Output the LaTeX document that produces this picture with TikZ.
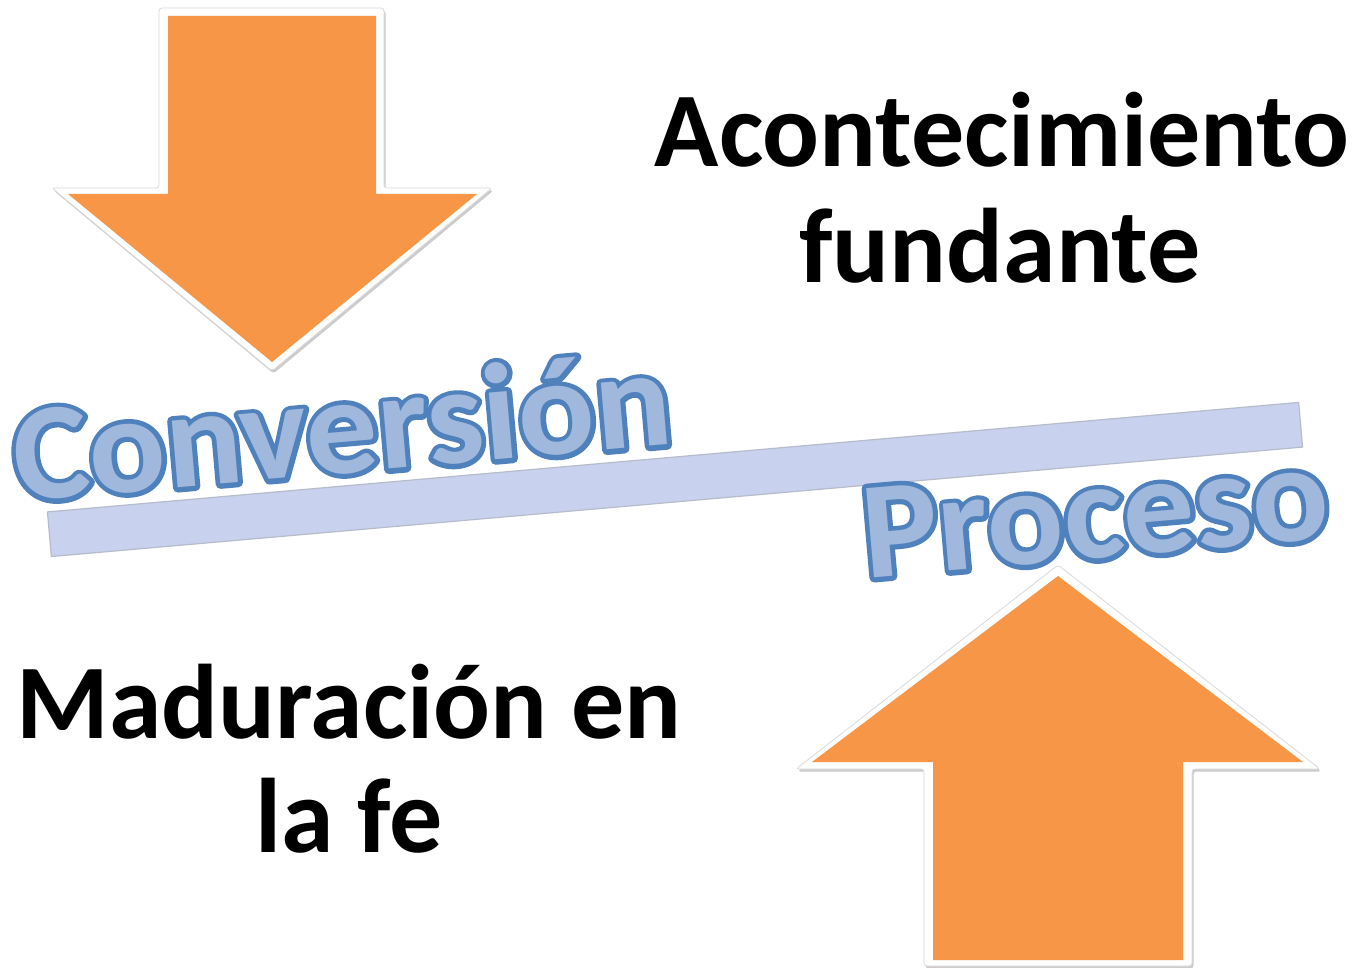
\documentclass[tikz,border=0pt]{standalone}
\usepackage{fontspec}
\newfontfamily\carlito{Carlito}
\newfontfamily\carlitowide{Carlito}[FakeStretch=1.035]
\newfontfamily\carlitoout{Carlito}[FakeBold=7, FakeStretch=1.035]
\definecolor{arroworange}{RGB}{247,150,70}
\definecolor{wablue}{RGB}{79,129,189}
\definecolor{wafill}{RGB}{160,184,220}
\definecolor{barfill}{RGB}{200,210,238}
\definecolor{baredge}{RGB}{182,188,202}
\begin{document}
\begin{tikzpicture}[x=1pt,y=-1pt,
  blacktext/.style={font=\carlito\bfseries\fontsize{106}{116}\selectfont, text=black, inner sep=0pt, anchor=base},
  waout/.style={font=\carlitoout\bfseries\fontsize{138}{150}\selectfont, text=wablue, inner sep=0pt, anchor=base, rotate=5},
  wain/.style={font=\carlitowide\bfseries\fontsize{138}{150}\selectfont, text=wafill, inner sep=0pt, anchor=base, rotate=5},
  arrowshadow/.style={fill=black!20, draw=none, rounded corners=3pt},
  arrowrim/.style={fill=white, draw=black!15, line width=0.8pt, rounded corners=3pt},
  arrowbody/.style={fill=arroworange, draw=none},
  barstyle/.style={fill=barfill, draw=baredge, line width=1.2pt},
]
\useasboundingbox (0,0) rectangle (1357,968);
\fill[white] (0,0) rectangle (1357,968);

% down arrow (top left)
\fill[arrowshadow, shift={(1.5,2.5)}] (159,8) -- (384,8) -- (384,188) -- (492,188) -- (272,371) -- (52,188) -- (159,188) -- cycle;
\filldraw[arrowrim] (159,8) -- (384,8) -- (384,188) -- (492,188) -- (272,371) -- (52,188) -- (159,188) -- cycle;
\fill[arrowbody] (168,16) -- (376,16) -- (376,194) -- (477,194) -- (272,362) -- (68,194) -- (168,194) -- cycle;

% up arrow (bottom right)
\fill[arrowshadow, shift={(1.5,2.5)}] (1058,565) -- (1320,769) -- (1192,769) -- (1192,966) -- (924,966) -- (924,769) -- (796,769) -- cycle;
\filldraw[arrowrim] (1058,565) -- (1320,769) -- (1192,769) -- (1192,966) -- (924,966) -- (924,769) -- (796,769) -- cycle;
\fill[arrowbody] (1058,576) -- (1303,762) -- (1183,762) -- (1183,960) -- (933,960) -- (933,762) -- (812,762) -- cycle;

% bar
\filldraw[barstyle, rotate around={5:(675,479.5)}] (47,457.1) rectangle (1303,501.9);

% black texts
\node[blacktext] (acon) at (1002,167) {Acontecimiento};
\node[blacktext] (fund) at (1000,283) {fundante};
\node[blacktext] (madu) at (349,738) {Maduración en};
\node[blacktext] (lafe) at (349,852) {la fe};

% word art texts: blue outline layer under a light fill layer
\begin{scope}[line join=round]
\node[waout] (convo) at (346,473) {Conversión};
\node[wain] (conv) at (346,473) {Conversión};
\node[waout] (proco) at (1099,558) {Proceso};
\node[wain] (proc) at (1099,558) {Proceso};
\end{scope}
\end{tikzpicture}
\end{document}
